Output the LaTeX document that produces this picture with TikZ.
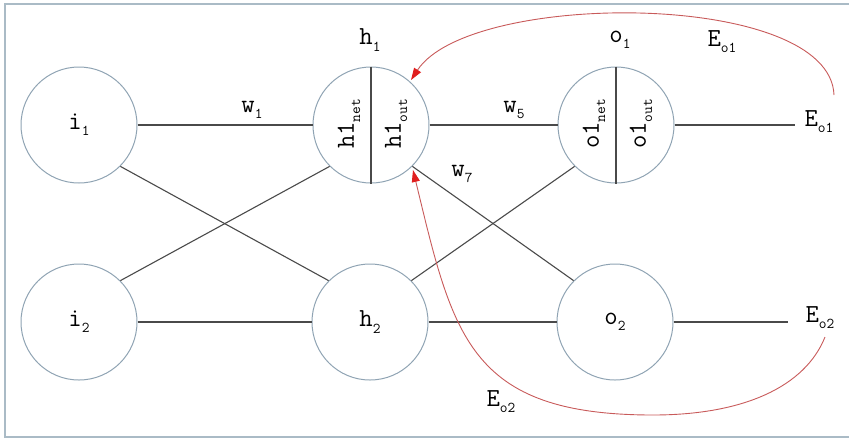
\documentclass[tikz,border=0pt]{standalone}
\usepackage{fontspec}
\usetikzlibrary{arrows.meta}
\newcommand{\lsub}[1]{\raisebox{-0.55ex}{\fontsize{15}{15}\selectfont #1}}
\definecolor{circcol}{HTML}{8FA3B3}
\definecolor{linecol}{HTML}{4A4A4A}
\definecolor{framecol}{HTML}{AABBC6}
\definecolor{curvecol}{HTML}{C85A5A}
\definecolor{tipcol}{HTML}{E01E1E}
\begin{document}
\begin{tikzpicture}[x=1pt,y=-1pt,
  neuron/.style={circle,draw=circcol,line width=1pt,minimum size=116pt,inner sep=0pt,font=\ttfamily\fontsize{26}{26}\selectfont},
  conn/.style={draw=linecol,line width=1.1pt},
  lab/.style={inner sep=0pt,font=\ttfamily\fontsize{26}{26}\selectfont},
  errcurve/.style={draw=curvecol,line width=0.9pt},
  errtip/.style={-{Triangle[length=12pt,width=8pt,fill=tipcol,color=tipcol]}}
]
\useasboundingbox (0,0) rectangle (849,440);
\draw[framecol,line width=2pt] (5,4) rectangle (870,437);

% neurons
\node[neuron] (i1) at (79,125) {i\lsub{1}};
\node[neuron] (i2) at (79,322) {i\lsub{2}};
\node[neuron] (h1) at (371,125) {};
\node[neuron] (h2) at (370,322) {h\lsub{2}};
\node[neuron] (o1) at (616,125) {};
\node[neuron] (o2) at (615,322) {o\lsub{2}};
\draw[conn] (h1.north) -- (h1.south);
\draw[conn] (o1.north) -- (o1.south);

% split texts
\node[lab,rotate=90] (h1net) at (349,124) {h1\lsub{net}};
\node[lab,rotate=90] (h1out) at (396,124) {h1\lsub{out}};
\node[lab,rotate=90] (o1net) at (594,124) {o1\lsub{net}};
\node[lab,rotate=90] (o1out) at (641,124) {o1\lsub{out}};

% labels
\node[lab] (h1lab) at (370,40) {h\lsub{1}};
\node[lab] (o1lab) at (620,40) {o\lsub{1}};
\node[lab] (eo1top) at (722,42) {E\lsub{o1}};
\node[lab] (eo1) at (819,122) {E\lsub{o1}};
\node[lab] (eo2) at (820,318) {E\lsub{o2}};
\node[lab] (eo2bot) at (501,402) {E\lsub{o2}};
\node[lab] (w1) at (252,110) {w\lsub{1}};
\node[lab] (w5) at (514,110) {w\lsub{5}};
\node[lab] (w7) at (462,174) {w\lsub{7}};

% output line ends
\coordinate (eo1end) at (795,125);
\coordinate (eo2end) at (788,322);
\coordinate (eo1start) at (834,95);
\coordinate (eo2start) at (825,337);
\coordinate (h1in) at (411,80);
\coordinate (h1in2) at (413,170);

% connections
\draw[conn] (i1.east) -- (h1.west);
\draw[conn] (i1.-45) -- (h2.135);
\draw[conn] (i2.45) -- (h1.-135);
\draw[conn] (i2.east) -- (h2.west);
\draw[conn] (h1.east) -- (o1.west);
\draw[conn] (h1.-45) -- (o2.135);
\draw[conn] (h2.45) -- (o1.-135);
\draw[conn] (h2.east) -- (o2.west);
\draw[conn] (o1.east) -- (eo1end);
\draw[conn] (o2.east) -- (eo2end);

% error curves
\draw[errcurve,errtip] (eo1start) .. controls (830,-10) and (470,-10) .. (h1in);
\draw[errcurve,errtip] (eo2start) .. controls (805,387) and (743,415) .. (653,415)
  .. controls (468,415) and (453,335) .. (h1in2);
\end{tikzpicture}
\end{document}
